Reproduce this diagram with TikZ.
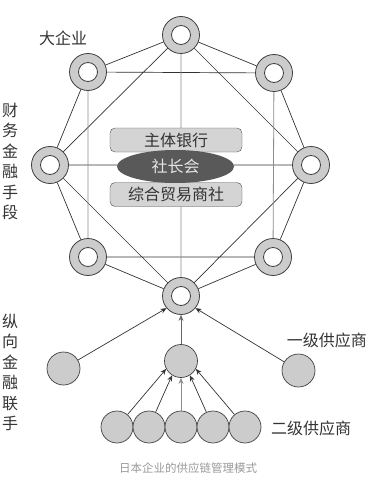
\documentclass[tikz,border=0pt]{standalone}
\usepackage{fontspec}
\setmainfont{Noto Sans CJK SC}
\usetikzlibrary{shapes.geometric, arrows.meta}
\begin{document}
\begin{tikzpicture}[x=1pt, y=-1pt, >={Stealth[length=6pt, width=5pt]},
        ring/.style={circle, draw=black!75, fill=black!20, minimum size=37pt, inner sep=0pt, line width=0.8pt,
            path picture={\draw[black!75, line width=0.8pt, fill=white] (path picture bounding box.center) circle (9.5pt);}},
        firm/.style={circle, draw=black!75, fill=black!20, minimum size=33pt, inner sep=0pt, line width=0.7pt},
        link/.style={black!80, line width=0.7pt},
        vlink/.style={black!45, line width=0.8pt},
        bank/.style={draw=black!70, fill=black!17, rounded corners=5pt, minimum width=132pt, minimum height=24pt,
            font=\fontsize{16}{18}\selectfont, text=black!80},
        lbl/.style={font=\fontsize{16}{20.5}\selectfont, text=black!80, align=center}]
    \useasboundingbox (0,0) rectangle (369,492);
    % large firms
    \node[ring] (top) at (181,35) {};
    \node[ring] (ul) at (88,72) {};
    \node[ring] (ur) at (274,73) {};
    \node[ring] (l) at (50,165) {};
    \node[ring] (r) at (311,165) {};
    \node[ring] (ll) at (88,257) {};
    \node[ring] (lr) at (273,257) {};
    \node[ring] (bot) at (181,296) {};
    \draw[link] (top) -- (ul) (top) -- (ur) (ul) -- (l) (ur) -- (r)
        (l) -- (ll) (r) -- (lr) (ll) -- (bot) (lr) -- (bot)
        (ul) -- (ur) (ll) -- (lr) (top) -- (l) (top) -- (r)
        (l) -- (bot) (r) -- (bot) (l) -- (r);
    \draw[vlink] (ul) -- (ll) (ur) -- (lr) (top) -- (bot);
    % centre
    \node[bank] (mainbank) at (176,140) {主体银行};
    \node[bank] (trading) at (176,194.5) {综合贸易商社};
    \node[ellipse, fill=black!65, minimum width=117pt, minimum height=33pt,
        font=\fontsize{16}{18}\selectfont, text=white!90!black] (council) at (175.5,166.5) {社长会};
    % suppliers
    \node[firm] (f1) at (63.5,368.5) {};
    \node[firm] (f2) at (181,361) {};
    \node[firm] (f3) at (298.5,370.5) {};
    \foreach \i/\x in {1/117,2/149,3/181,4/213,5/245}
        \node[firm, minimum size=32pt] (s\i) at (\x,427) {};
    \draw[link, ->] (f1) -- (bot.220);
    \draw[link, black!60, ->] (f2) -- (bot.south);
    \draw[link, ->] (f3) -- (bot.320);
    \draw[link, ->] (s1) -- (f2.208);
    \draw[link, ->] (s2) -- (f2.238);
    \draw[vlink, ->] (s3) -- (f2.south);
    \draw[link, ->] (s4) -- (f2.302);
    \draw[link, ->] (s5) -- (f2.332);
    % labels
    \node[lbl] (bigfirm) at (63,38) {大企业};
    \node[lbl] (finance) at (10,161.5) {财\\务\\金\\融\\手\\段};
    \node[lbl] (joint) at (10,372.5) {纵\\向\\金\\融\\联\\手};
    \node[lbl, anchor=east, inner sep=1pt] (tier1) at (368,340) {一级供应商};
    \node[lbl] (tier2) at (311,428) {二级供应商};
    \node[font=\fontsize{11.5}{14}\selectfont, text=black!40] (caption) at (188,468) {日本企业的供应链管理模式};
\end{tikzpicture}
\end{document}
